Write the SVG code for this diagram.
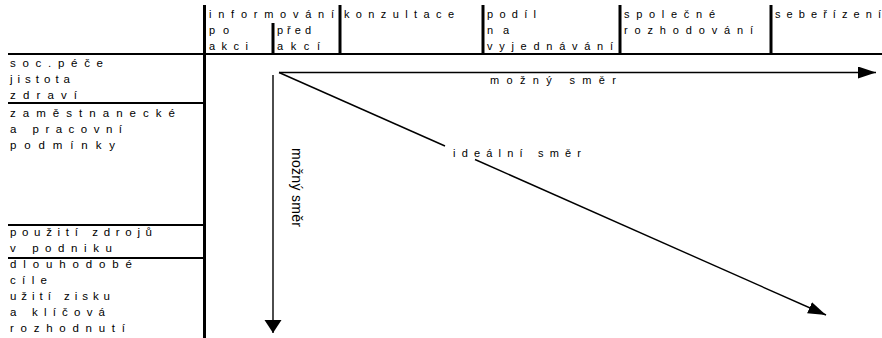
<svg xmlns="http://www.w3.org/2000/svg" width="882" height="338" viewBox="0 0 882 338">
<style>
  text { font-family: "Liberation Sans", Arial, sans-serif; font-size: 11px; fill: #000; }
  .r { font-size: 11.5px; }
  .div { stroke: #000; stroke-width: 3; fill: none; }
  .rule { stroke: #000; stroke-width: 2.2; fill: none; }
  .arr { stroke: #000; stroke-width: 1.4; fill: none; }
</style>
<defs>
  <marker id="ah" markerUnits="userSpaceOnUse" markerWidth="20" markerHeight="14" refX="18" refY="6" orient="auto">
    <path d="M0,0 L18,6 L0,12 Z" fill="#000"/>
  </marker>
  <marker id="ahv" markerUnits="userSpaceOnUse" markerWidth="20" markerHeight="20" refX="13" refY="8.5" orient="auto">
    <path d="M0,0 L13,8.5 L0,17 Z" fill="#000"/>
  </marker>
</defs>
<rect width="882" height="338" fill="#fff"/>

<g id="grid">
  <line class="div" x1="204.5" y1="5" x2="204.5" y2="338"/>
  <line class="rule" x1="8" y1="54" x2="882" y2="54"/>
  <line class="div" x1="273" y1="23" x2="273" y2="54"/>
  <line class="div" x1="340" y1="5" x2="340" y2="54"/>
  <line class="div" x1="483" y1="5" x2="483" y2="54"/>
  <line class="div" x1="620" y1="5" x2="620" y2="54"/>
  <line class="div" x1="771" y1="5" x2="771" y2="54"/>
  <line class="rule" x1="8" y1="103" x2="205" y2="103"/>
  <line class="rule" x1="8" y1="225" x2="205" y2="225"/>
  <line class="rule" x1="8" y1="258" x2="205" y2="258"/>
</g>

<g id="h-informovani"><text x="209" y="18" textLength="125" lengthAdjust="spacing">informování</text></g>
<g id="h-po-akci"><text x="209" y="34" textLength="20" lengthAdjust="spacing">po</text><text x="209" y="50" textLength="39" lengthAdjust="spacing">akci</text></g>
<g id="h-pred-akci"><text x="277" y="34" textLength="34" lengthAdjust="spacing">před</text><text x="277" y="50" textLength="43" lengthAdjust="spacing">akcí</text></g>
<g id="h-konzultace"><text x="344" y="18" textLength="110" lengthAdjust="spacing">konzultace</text></g>
<g id="h-podil"><text x="487" y="18" textLength="49" lengthAdjust="spacing">podíl</text><text x="487" y="34" textLength="22" lengthAdjust="spacing">na</text><text x="487" y="50" textLength="126" lengthAdjust="spacing">vyjednávání</text></g>
<g id="h-spolecne"><text x="624" y="18" textLength="91" lengthAdjust="spacing">společné</text><text x="624" y="34" textLength="129" lengthAdjust="spacing">rozhodování</text></g>
<g id="h-seberizeni"><text x="775" y="18" textLength="106" lengthAdjust="spacing">sebeřízení</text></g>

<g id="r-soc"><text class="r" x="10" y="67" textLength="93" lengthAdjust="spacing">soc.péče</text><text class="r" x="10" y="83" textLength="60" lengthAdjust="spacing">jistota</text><text class="r" x="10" y="99" textLength="67" lengthAdjust="spacing">zdraví</text></g>
<g id="r-zam"><text class="r" x="10" y="117" textLength="165" lengthAdjust="spacing">zaměstnanecké</text><text class="r" x="10" y="133" textLength="112" lengthAdjust="spacing">a pracovní</text><text class="r" x="10" y="149" textLength="105" lengthAdjust="spacing">podmínky</text></g>
<g id="r-zdroje"><text class="r" x="10" y="236" textLength="142" lengthAdjust="spacing">použití zdrojů</text><text class="r" x="10" y="252" textLength="102" lengthAdjust="spacing">v podniku</text></g>
<g id="r-cile"><text class="r" x="10" y="268" textLength="122" lengthAdjust="spacing">dlouhodobé</text><text class="r" x="10" y="284" textLength="37" lengthAdjust="spacing">cíle</text><text class="r" x="10" y="300" textLength="100" lengthAdjust="spacing">užití zisku</text><text class="r" x="10" y="316" textLength="95" lengthAdjust="spacing">a klíčová</text><text class="r" x="10" y="332" textLength="115" lengthAdjust="spacing">rozhodnutí</text></g>

<g id="connectors">
  <line class="arr" x1="279" y1="72.5" x2="876" y2="72.5" marker-end="url(#ah)"/>
  <line class="arr" x1="273" y1="75" x2="273" y2="333" marker-end="url(#ahv)"/>
  <line class="arr" x1="279" y1="72.5" x2="445" y2="146"/>
  <line class="arr" x1="475" y1="159.5" x2="826" y2="315" marker-end="url(#ah)"/>
  <text x="490" y="84" textLength="126" lengthAdjust="spacing">možný směr</text>
  <text x="453" y="157" textLength="128" lengthAdjust="spacing">ideální směr</text>
  <text x="292" y="148" transform="rotate(90 292 148)" style="font-size:14px" textLength="79" lengthAdjust="spacing">možný směr</text>
</g>
</svg>
